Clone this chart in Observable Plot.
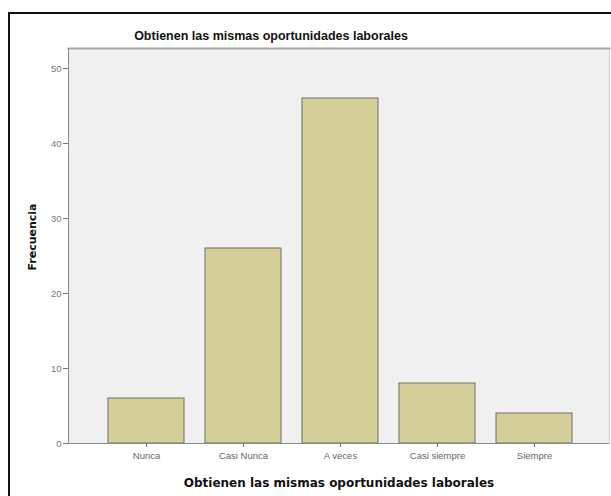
<!DOCTYPE html>
<html>
<head>
<meta charset="utf-8">
<script src="https://cdn.jsdelivr.net/npm/d3@7"></script>
<script src="https://cdn.jsdelivr.net/npm/@observablehq/plot@0.6"></script>
<style>
  html, body { margin: 0; padding: 0; background: #fff; width: 611px; height: 496px; overflow: hidden; }
  #wrap { position: relative; width: 611px; height: 496px; }
  #border { position: absolute; left: 8px; top: 12px; width: 640px; height: 520px; border: 2px solid #111; box-sizing: border-box; }
  #title { position: absolute; left: 0; top: 29px; width: 542px; text-align: center; font-family: "Liberation Sans", Arial, sans-serif; font-weight: bold; font-size: 12.5px; color: #111; }
  #chart { position: absolute; left: 0; top: 0; }
</style>
</head>
<body>
<div id="wrap">
  <div id="border"></div>
  <div id="title">Obtienen las mismas oportunidades laborales</div>
  <div id="chart"></div>
</div>
<script>
const categories = ["Nunca", "Casi Nunca", "A veces", "Casi siempre", "Siempre"];
const frecuencias = [6, 26, 46, 8, 4];
const yTicks = [0, 10, 20, 30, 40, 50];
const xTitle = "Obtienen las mismas oportunidades laborales";
const yTitle = "Frecuencia";

const data = categories.map((c, i) => ({categoria: c, frecuencia: frecuencias[i]}));

const chart = Plot.plot({
  width: 611,
  height: 496,
  marginLeft: 68,
  marginRight: 2,
  marginTop: 48,
  marginBottom: 53,
  style: {background: "transparent", fontFamily: "Liberation Sans, Arial, sans-serif"},
  x: {type: "band", domain: categories, paddingInner: 0.22, paddingOuter: 0.11, insetLeft: 29, insetRight: 26, label: null},
  y: {domain: [0, 52.67], label: null},
  marks: [
    Plot.frame({fill: "#f0f0f0", stroke: "#d0d0d0"}),
    Plot.frame({anchor: "top", stroke: "#a8a8a8", strokeWidth: 2}),
    Plot.barY(data, {x: "categoria", y: "frecuencia", fill: "#d4cf98", stroke: "#6e6e62", strokeWidth: 1}),
    Plot.ruleY([0], {stroke: "#8a8a8a"}),
    Plot.frame({anchor: "left", stroke: "#8a8a8a"}),
    Plot.axisY({ticks: yTicks, tickSize: 5, tickPadding: 2, fontSize: 9.5, color: "#777", stroke: "#777", label: null}),
    Plot.axisX({tickSize: 4, tickPadding: 5, fontSize: 9.5, color: "#666", stroke: "#777", label: null}),
    Plot.text([xTitle], {frameAnchor: "bottom", dy: 40, fontSize: 12, fontWeight: "bold", fontFamily: "DejaVu Sans, Verdana, sans-serif", fill: "#111", lineAnchor: "middle"}),
    Plot.text([yTitle], {frameAnchor: "left", textAnchor: "middle", dx: -36, dy: -9, rotate: -90, fontSize: 11, fontWeight: "bold", fontFamily: "DejaVu Sans, Verdana, sans-serif", fill: "#111"})
  ]
});
document.getElementById("chart").appendChild(chart);
</script>
</body>
</html>
